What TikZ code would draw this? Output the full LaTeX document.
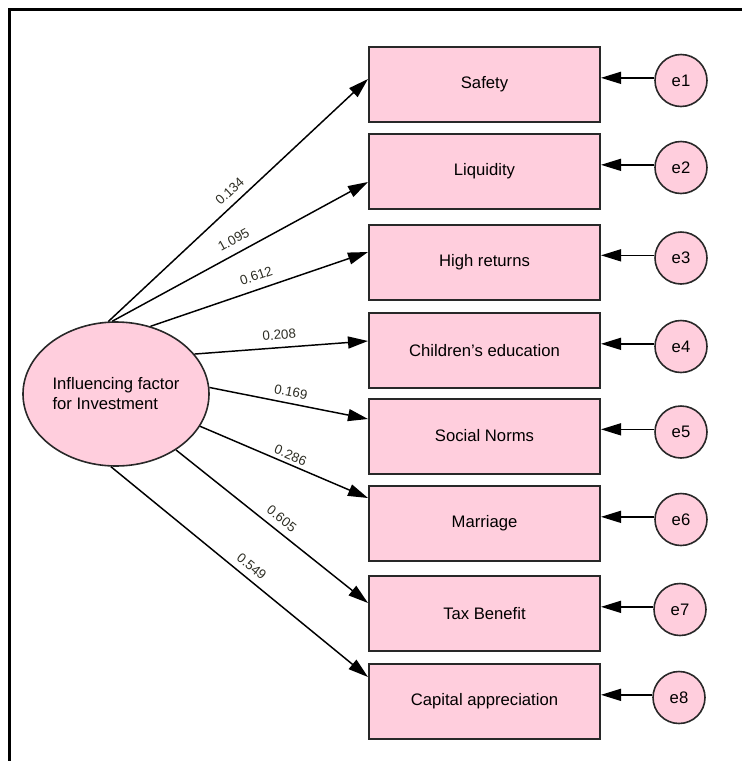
\documentclass[tikz,border=0pt]{standalone}
\usepackage{fontspec}
\setmainfont{Liberation Sans}
\usetikzlibrary{arrows.meta,calc,shapes.geometric}
\definecolor{pinkfill}{RGB}{255,206,221}
\definecolor{edge}{RGB}{40,40,40}
\definecolor{lblcol}{RGB}{45,45,35}
\tikzset{
  obsbox/.style={draw=edge, line width=1.5pt, fill=pinkfill, rectangle, inner sep=0pt,
    minimum width=173.25pt, minimum height=56.25pt, font=\fontsize{12.5}{15}\selectfont},
  errc/.style={draw=edge, line width=1.2pt, fill=pinkfill, circle, inner sep=0pt,
    minimum size=39pt, font=\fontsize{12.5}{15}\selectfont},
  latent/.style={draw=edge, line width=1.2pt, fill=pinkfill, ellipse, inner sep=0pt,
    minimum width=139.5pt, minimum height=108pt, align=left, font=\fontsize{12.5}{15}\selectfont},
  arr/.style={line width=1.1pt, -{Triangle[length=15pt,width=9pt]}},
  lbl/.style={sloped, inner sep=0pt, text=lblcol, font=\fontsize{10}{12}\selectfont}
}
\begin{document}
\begin{tikzpicture}[x=0.75pt,y=-0.75pt]
\useasboundingbox (0,0) rectangle (742,761);
% frame
\draw[line width=2pt] (9.2,761) -- (9.2,9.2) -- (742,9.2);

% latent variable
\node[latent] (lat) at (116,394) {Influencing factor\\for Investment};

% observed boxes
\node[obsbox] (b1) at (484.5,84.5) {Safety};
\node[obsbox] (b2) at (484.5,171.5) {Liquidity};
\node[obsbox] (b3) at (484.5,262) {High returns};
\node[obsbox] (b4) at (484.5,350.5) {Children’s education};
\node[obsbox] (b5) at (484.5,436) {Social Norms};
\node[obsbox] (b6) at (484.5,523.5) {Marriage};
\node[obsbox] (b7) at (484.5,613.5) {Tax Benefit};
\node[obsbox] (b8) at (484.5,701.5) {Capital appreciation};

% error terms
\node[errc] (e1) at (681,80.5) {e1};
\node[errc] (e2) at (681,167.5) {e2};
\node[errc] (e3) at (681,258) {e3};
\node[errc] (e4) at (681,346.5) {e4};
\node[errc] (e5) at (681,432) {e5};
\node[errc] (e6) at (681,519.5) {e6};
\node[errc] (e7) at (680,609.5) {e7};
\node[errc] (e8) at (679,697.5) {e8};

% arrow targets on the boxes
\coordinate (t1) at ($(b1.west)+(0,-5.5)$);
\coordinate (t2) at ($(b2.west)+(0,10.5)$);
\coordinate (t3) at ($(b3.west)+(0,-10)$);
\coordinate (t4) at ($(b4.west)+(0,-9.5)$);
\coordinate (t5) at ($(b5.west)+(0,-17)$);
\coordinate (t6) at ($(b6.west)+(0,-25.5)$);
\coordinate (t7) at ($(b7.west)+(0,-10.5)$);
\coordinate (t8) at ($(b8.west)+(0,-24.5)$);

% loadings
\draw[arr] (lat.96) -- (t1) node[lbl, pos=.50, above=5.2pt] {0.134};
\draw[arr] (lat.93) -- (t2) node[lbl, pos=.50, above=6.2pt] {1.095};
\draw[arr] (lat.63.1) -- (t3) node[lbl, pos=.506, above=6.2pt] {0.612};
\draw[arr] (lat.27.45) -- (t4) node[lbl, pos=.494, above=5.5pt] {0.208};
\draw[arr] (lat.4.97) -- (t5) node[lbl, pos=.50, above=4.6pt] {0.169};
\draw[arr] (lat.-21.7) -- (t6) node[lbl, pos=.518, above=2.6pt] {0.286};
\draw[arr] (lat.-43) -- (t7) node[lbl, pos=.511, above=5pt] {0.605};
\draw[arr] (lat.-94) -- (t8) node[lbl, pos=.518, above=4.8pt] {0.549};

% error arrows
\foreach \i in {1,...,8}{
  \draw[arr] ([yshift=2pt]e\i.west) -- ([yshift=2pt]e\i.west -| b\i.east);
}
\end{tikzpicture}
\end{document}
